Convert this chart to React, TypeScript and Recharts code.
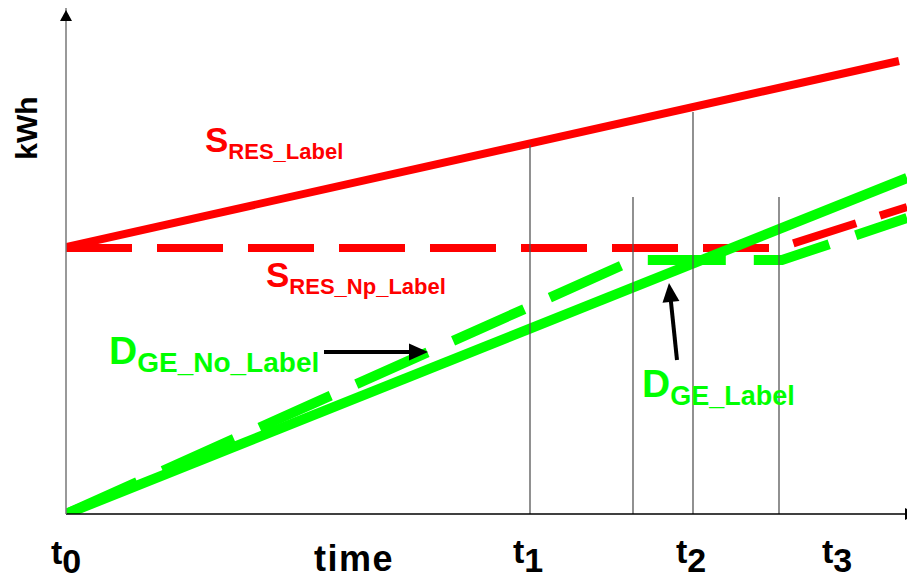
import React from 'react';
import { LineChart, Line, XAxis, YAxis, ReferenceLine, ReferenceDot } from 'recharts';

// ---- data (time units / kWh units) ----
const tickValues = [0, 288, 462, 625, 771];
const tickMain = ['t', 'time', 't', 't', 't'];
const tickSub = ['0', '', '1', '2', '3'];

const sRes = [{ t: 0, e: 267 }, { t: 833, e: 453 }];
const sResNp = [{ t: 0, e: 266 }, { t: 713, e: 266 }, { t: 841, e: 307 }];
const dGe = [{ t: 0, e: 0 }, { t: 841, e: 336 }];
const dGeNo = [{ t: 0, e: 0 }, { t: 568, e: 254 }, { t: 716, e: 254 }, { t: 841, e: 296 }];

const markerTimes = [464, 567, 627, 713];
const markerTops = [369, 317, 402, 317];

// ---- styling ----
const FONT = 'Liberation Sans, Arial, Helvetica, sans-serif';
const RED = '#FF0000';
const GREEN = '#00FF00';
const tickBaseline = [50, 57, 49, 49, 49];

const TimeTick = (props: any) => {
  const { x, y, payload } = props;
  const i = tickValues.indexOf(payload.value);
  if (i < 0) return null;
  const isTime = tickMain[i] === 'time';
  return (
    <text
      x={x}
      y={y + tickBaseline[i]}
      textAnchor="middle"
      fontFamily={FONT}
      fontWeight="bold"
      fontSize={isTime ? 36 : 34}
      fill="#000"
      letterSpacing={isTime ? 1.5 : 0}
    >
      <tspan>{tickMain[i]}</tspan>
      {tickSub[i] ? <tspan dy={9}>{tickSub[i]}</tspan> : null}
    </text>
  );
};

const makeSubLabel = (main: string, sub: string, color: string, mainSize: number, subSize: number, dy: number) =>
  (p: any) => (
    <text x={p.cx} y={p.cy} fill={color} fontFamily={FONT} fontWeight="bold">
      <tspan fontSize={mainSize}>{main}</tspan>
      <tspan fontSize={subSize} dy={dy}>{sub}</tspan>
    </text>
  );

const ArrowShape = (p: any) => {
  const { x1, y1, x2, y2 } = p;
  if ([x1, y1, x2, y2].some((v) => v == null || isNaN(v))) return null;
  const dx = x2 - x1;
  const dy = y2 - y1;
  const len = Math.sqrt(dx * dx + dy * dy) || 1;
  const ux = dx / len;
  const uy = dy / len;
  const L = 19;
  const W = 8.5;
  const bx = x2 - ux * L;
  const by = y2 - uy * L;
  const px = -uy;
  const py = ux;
  return (
    <g>
      <line x1={x1} y1={y1} x2={bx + ux * 2} y2={by + uy * 2} stroke="#000" strokeWidth={4} />
      <polygon points={`${x2},${y2} ${bx + px * W},${by + py * W} ${bx - px * W},${by - py * W}`} fill="#000" />
    </g>
  );
};

const UpArrowHead = (p: any) => (
  <polygon points={`${p.cx},${p.cy} ${p.cx - 6},${p.cy + 11} ${p.cx + 6},${p.cy + 11}`} fill="#000" />
);
const RightArrowHead = (p: any) => (
  <polygon points={`${p.cx + 10},${p.cy} ${p.cx - 2},${p.cy - 6} ${p.cx - 2},${p.cy + 6}`} fill="#000" />
);
const KwhLabel = (p: any) => (
  <text
    x={p.cx - 29}
    y={p.cy}
    transform={`rotate(-90, ${p.cx - 29}, ${p.cy})`}
    textAnchor="middle"
    fontFamily={FONT}
    fontWeight="bold"
    fontSize={30}
    fill="#000"
  >
    kWh
  </text>
);

export default function App() {
  return (
    <div style={{ position: 'absolute', left: 0, top: 0, width: 907, height: 580, background: '#fff' }}>
      <LineChart width={907} height={580} margin={{ top: 8, right: 0, bottom: 0, left: 0 }}>
        <XAxis
          type="number"
          dataKey="t"
          domain={[0, 841]}
          ticks={tickValues}
          interval={0}
          height={66}
          tickSize={0}
          tickMargin={0}
          tickLine={false}
          axisLine={{ stroke: '#000', strokeWidth: 1.5 }}
          tick={<TimeTick />}
          allowDataOverflow
        />
        <YAxis
          type="number"
          dataKey="e"
          domain={[0, 506]}
          width={66}
          tick={false}
          tickLine={false}
          axisLine={{ stroke: '#777', strokeWidth: 1.5 }}
          allowDataOverflow
        />
        <Line data={sRes} dataKey="e" type="linear" stroke={RED} strokeWidth={8} dot={false} activeDot={false} isAnimationActive={false} />
        <Line data={sResNp} dataKey="e" type="linear" stroke={RED} strokeWidth={8} strokeDasharray="66 25" dot={false} activeDot={false} isAnimationActive={false} />
        <Line data={dGeNo} dataKey="e" type="linear" stroke={GREEN} strokeWidth={10} strokeDasharray="78 28" dot={false} activeDot={false} isAnimationActive={false} />
        <Line data={dGe} dataKey="e" type="linear" stroke={GREEN} strokeWidth={10} dot={false} activeDot={false} isAnimationActive={false} />
        {markerTimes.map((m, i) => (
          <ReferenceLine
            key={'m' + i}
            segment={[{ x: m, y: 0 }, { x: m, y: markerTops[i] }]}
            stroke="#555"
            strokeWidth={1.3}
          />
        ))}
        <ReferenceLine segment={[{ x: 258, y: 162 }, { x: 362, y: 162 }]} shape={ArrowShape} />
        <ReferenceLine segment={[{ x: 611, y: 154 }, { x: 603, y: 231 }]} shape={ArrowShape} />
        <ReferenceDot x={0} y={504} r={0} shape={UpArrowHead} ifOverflow="visible" />
        <ReferenceDot x={841} y={0} r={0} shape={RightArrowHead} ifOverflow="visible" />
        <ReferenceDot x={0} y={386} r={0} shape={KwhLabel} ifOverflow="visible" />
        <ReferenceDot x={139} y={362} r={0} shape={makeSubLabel('S', 'RES_Label', RED, 35, 22, 7)} ifOverflow="visible" />
        <ReferenceDot x={200} y={227} r={0} shape={makeSubLabel('S', 'RES_Np_Label', RED, 35, 22, 7)} ifOverflow="visible" />
        <ReferenceDot x={43} y={150} r={0} shape={makeSubLabel('D', 'GE_No_Label', GREEN, 39, 28, 8)} ifOverflow="visible" />
        <ReferenceDot x={576} y={117} r={0} shape={makeSubLabel('D', 'GE_Label', GREEN, 39, 27, 8)} ifOverflow="visible" />
      </LineChart>
    </div>
  );
}
